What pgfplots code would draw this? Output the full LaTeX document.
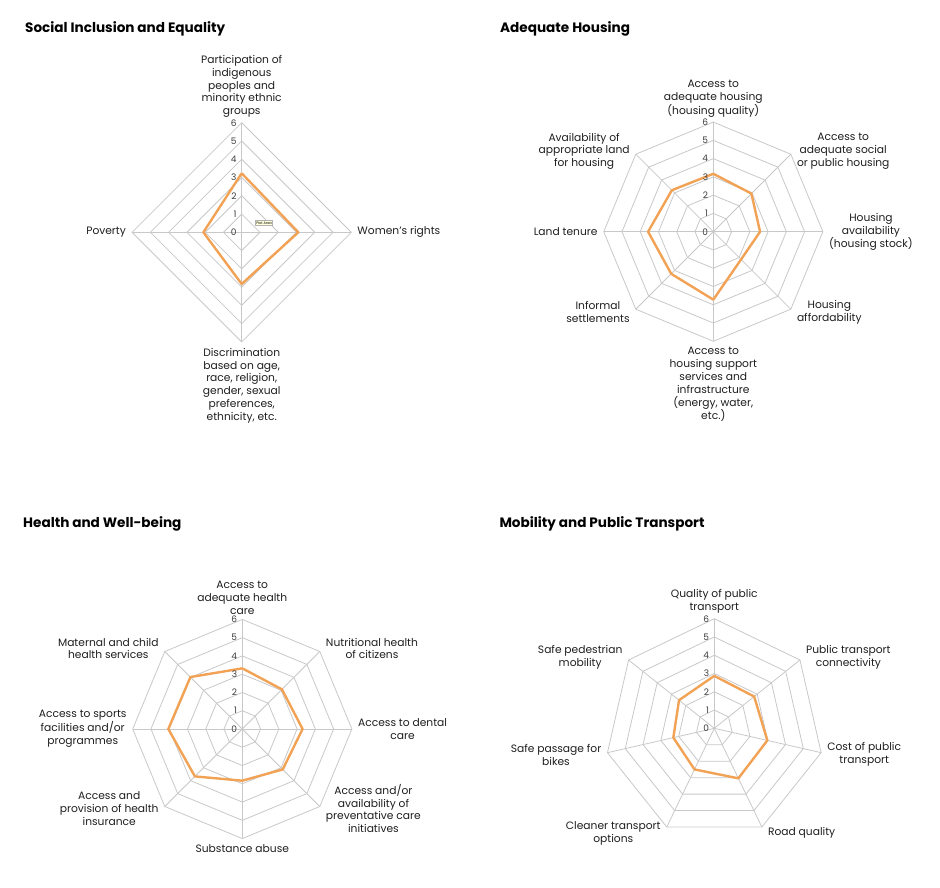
\documentclass[border=0pt]{standalone}
\usepackage{pgfplots}
\pgfplotsset{compat=1.18}
\usepgfplotslibrary{polar}
\usepackage{fontspec}
\setmainfont{Poppins}
\definecolor{gridc}{RGB}{200,200,200}
\definecolor{oran}{RGB}{242,162,85}
\definecolor{labc}{RGB}{30,30,30}
\definecolor{numc}{RGB}{60,60,60}
\pgfplotsset{
  radar/.style={scale only axis, width=219.2pt, height=219.2pt, ymin=0, ymax=6,
    xmin=0, xmax=360, hide axis, clip=false, anchor=center},
  gridl/.style={draw=gridc, line width=0.8pt, no markers},
  datal/.style={draw=oran, line width=2.4pt, line join=round, no markers},
}
\tikzset{
  lab/.style={font=\fontsize{10.7}{12.8}\selectfont, text=labc, align=center, inner sep=0pt},
  labN/.style={lab, anchor=south, yshift=5pt},
  labS/.style={lab, anchor=north, yshift=-6pt},
  labE/.style={lab, anchor=west, xshift=6pt},
  labW/.style={lab, anchor=east, xshift=-6pt},
  num/.style={font=\fontsize{9}{10}\selectfont, text=numc, anchor=east, inner sep=0pt, xshift=-5pt},
  ttl/.style={font=\fontsize{13.6}{15}\selectfont\bfseries, text=black, anchor=base west, inner sep=0pt},
}
\begin{document}
\begin{tikzpicture}
\path[use as bounding box] (0pt,0pt) rectangle (940pt,887pt);
\node[ttl] at (25pt,854.3pt) {Social Inclusion and Equality};
\node[ttl] at (500pt,854.3pt) {Adequate Housing};
\node[ttl] at (23pt,359.3pt) {Health and Well-being};
\node[ttl] at (499.3pt,359.3pt) {Mobility and Public Transport};

% ---------- Social Inclusion (4 axes) ----------
\begin{polaraxis}[radar, at={(241.7pt,654.7pt)}]
\pgfplotsinvokeforeach{1,2,3,4,5,6}{
  \addplot[gridl] coordinates {(90,#1) (0,#1) (-90,#1) (-180,#1) (-270,#1)};
}
\pgfplotsinvokeforeach{90,0,-90,-180}{
  \addplot[gridl] coordinates {(#1,0) (#1,6)};
}
\addplot[datal] coordinates {(90,3.23) (0,3.1) (-90,2.83) (-180,2.1) (-270,3.23)};
\pgfplotsinvokeforeach{0,1,2,3,4,5,6}{\node[num] at (axis cs:90,#1) {#1};}
\node[labN] at (axis cs:90,6) {Participation of\\indigenous\\peoples and\\minority ethnic\\groups};
\node[labE] at (axis cs:0,6) {Women's rights};
\node[labS] at (axis cs:-90,6) {Discrimination\\based on age,\\race, religion,\\gender, sexual\\preferences,\\ethnicity, etc.};
\node[labW] at (axis cs:180,6) {Poverty};
\node[draw=gray!60, fill={rgb,255:red,255;green,255;blue,220}, inner sep=0.8pt,
  font=\fontsize{3.5}{4}\selectfont] at (axis cs:23,1.33) {Plot Area};
\end{polaraxis}

% ---------- Adequate Housing (8 axes) ----------
\begin{polaraxis}[radar, at={(713.3pt,655.3pt)}]
\pgfplotsinvokeforeach{1,2,3,4,5,6}{
  \addplot[gridl] coordinates {(90,#1) (45,#1) (0,#1) (-45,#1) (-90,#1) (-135,#1) (-180,#1) (-225,#1) (-270,#1)};
}
\pgfplotsinvokeforeach{90,45,0,-45,-90,-135,-180,-225}{
  \addplot[gridl] coordinates {(#1,0) (#1,6)};
}
\addplot[datal] coordinates {(90,3.17) (45,2.95) (0,2.56) (-45,2.15) (-90,3.72) (-135,3.26) (-180,3.57) (-225,3.21) (-270,3.17)};
\pgfplotsinvokeforeach{0,1,2,3,4,5,6}{\node[num] at (axis cs:90,#1) {#1};}
\node[labN] at (axis cs:90,6) {Access to\\adequate housing\\(housing quality)};
\node[labE, yshift=3pt] at (axis cs:45,6) {Access to\\adequate social\\or public housing};
\node[labE] at (axis cs:0,6) {Housing\\availability\\(housing stock)};
\node[labE, yshift=-3pt] at (axis cs:-45,6) {Housing\\affordability};
\node[labS] at (axis cs:-90,6) {Access to\\housing support\\services and\\infrastructure\\(energy, water,\\etc.)};
\node[labW, yshift=-3pt] at (axis cs:-135,6) {Informal\\settlements};
\node[labW] at (axis cs:180,6) {Land tenure};
\node[labW, yshift=3pt] at (axis cs:135,6) {Availability of\\appropriate land\\for housing};
\end{polaraxis}

% ---------- Health and Well-being (8 axes) ----------
\begin{polaraxis}[radar, at={(242.3pt,158pt)}]
\pgfplotsinvokeforeach{1,2,3,4,5,6}{
  \addplot[gridl] coordinates {(90,#1) (45,#1) (0,#1) (-45,#1) (-90,#1) (-135,#1) (-180,#1) (-225,#1) (-270,#1)};
}
\pgfplotsinvokeforeach{90,45,0,-45,-90,-135,-180,-225}{
  \addplot[gridl] coordinates {(#1,0) (#1,6)};
}
\addplot[datal] coordinates {(90,3.32) (45,3.07) (0,3.3) (-45,3.13) (-90,2.83) (-135,3.67) (-180,4.05) (-225,4.02) (-270,3.32)};
\pgfplotsinvokeforeach{0,1,2,3,4,5,6}{\node[num] at (axis cs:90,#1) {#1};}
\node[labN] at (axis cs:90,6) {Access to\\adequate health\\care};
\node[labE, yshift=3pt] at (axis cs:45,6) {Nutritional health\\of citizens};
\node[labE] at (axis cs:0,6) {Access to dental\\care};
\node[labE, yshift=-2pt] at (axis cs:-45,6) {Access and/or\\availability of\\preventative care\\initiatives};
\node[labS] at (axis cs:-90,6) {Substance abuse};
\node[labW, yshift=-2pt] at (axis cs:-135,6) {Access and\\provision of health\\insurance};
\node[labW] at (axis cs:180,6) {Access to sports\\facilities and/or\\programmes};
\node[labW, yshift=3pt] at (axis cs:135,6) {Maternal and child\\health services};
\end{polaraxis}

% ---------- Mobility (7 axes) ----------
\begin{polaraxis}[radar, at={(714.3pt,158.7pt)}]
\pgfplotsinvokeforeach{1,2,3,4,5,6}{
  \addplot[gridl] coordinates {(90,#1) (38.571,#1) (-12.857,#1) (-64.286,#1) (-115.714,#1) (-167.143,#1) (-218.571,#1) (-270,#1)};
}
\pgfplotsinvokeforeach{90,38.571,-12.857,-64.286,-115.714,-167.143,-218.571}{
  \addplot[gridl] coordinates {(#1,0) (#1,6)};
}
\addplot[datal] coordinates {(90,2.87) (38.571,2.79) (-12.857,2.98) (-64.286,3.04) (-115.714,2.5) (-167.143,2.3) (-218.571,2.47) (-270,2.87)};
\pgfplotsinvokeforeach{0,1,2,3,4,5,6}{\node[num] at (axis cs:90,#1) {#1};}
\node[labN] at (axis cs:90,6) {Quality of public\\transport};
\node[labE, yshift=3pt] at (axis cs:38.571,6) {Public transport\\connectivity};
\node[labE, yshift=-2pt] at (axis cs:-12.857,6) {Cost of public\\transport};
\node[labE, yshift=-6pt] at (axis cs:-64.286,6) {Road quality};
\node[labW, yshift=-6pt] at (axis cs:-115.714,6) {Cleaner transport\\options};
\node[labW, yshift=-2pt] at (axis cs:-167.143,6) {Safe passage for\\bikes};
\node[labW, yshift=3pt] at (axis cs:141.429,6) {Safe pedestrian\\mobility};
\end{polaraxis}
\end{tikzpicture}
\end{document}
